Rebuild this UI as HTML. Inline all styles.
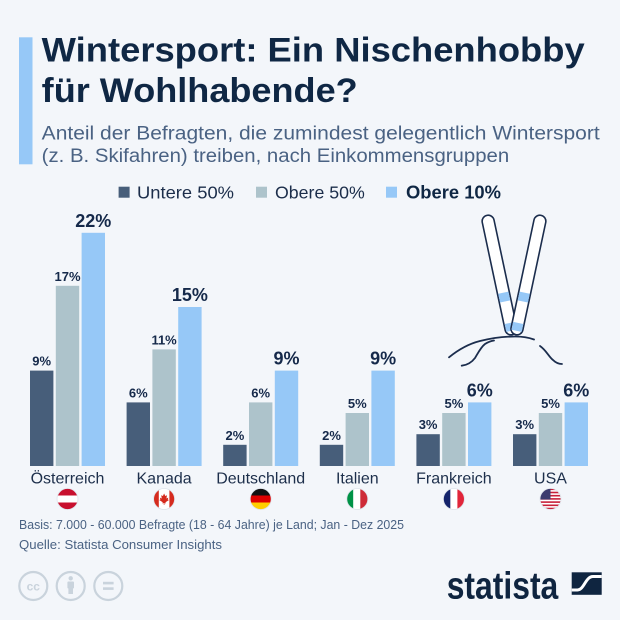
<!DOCTYPE html>
<html><head><meta charset="utf-8"><style>
html,body{margin:0;padding:0;background:#f3f6fa;}
svg{display:block;}
</style></head><body>
<svg width="620" height="620" viewBox="0 0 620 620" xmlns="http://www.w3.org/2000/svg" font-family="'Liberation Sans', sans-serif">
<defs>
<clipPath id="cAT"><circle cx="67.5" cy="499" r="10.5"/></clipPath>
<clipPath id="cCA"><circle cx="164.1" cy="499" r="10.5"/></clipPath>
<clipPath id="cDE"><circle cx="260.7" cy="499" r="10.5"/></clipPath>
<clipPath id="cIT"><circle cx="357.3" cy="499" r="10.5"/></clipPath>
<clipPath id="cFR"><circle cx="453.9" cy="499" r="10.5"/></clipPath>
<clipPath id="cUS"><circle cx="550.5" cy="499" r="10.5"/></clipPath>
</defs>
<rect width="620" height="620" fill="#f3f6fa"/>
<rect x="19" y="37.3" width="13.5" height="127" fill="#96c8f7"/>

<text x="41.7" y="61.5" font-size="34" font-weight="bold" fill="#0f2744" textLength="543" lengthAdjust="spacingAndGlyphs">Wintersport: Ein Nischenhobby</text>
<text x="41.7" y="102" font-size="34" font-weight="bold" fill="#0f2744" textLength="316" lengthAdjust="spacingAndGlyphs">für Wohlhabende?</text>

<text x="41.7" y="139.3" font-size="19" fill="#4a6283" textLength="558" lengthAdjust="spacingAndGlyphs">Anteil der Befragten, die zumindest gelegentlich Wintersport</text>
<text x="41.7" y="161.8" font-size="19" fill="#4a6283" textLength="467.5" lengthAdjust="spacingAndGlyphs">(z. B. Skifahren) treiben, nach Einkommensgruppen</text>

<!-- legend -->
<rect x="118.6" y="186.7" width="11" height="11" fill="#475e7a"/>
<text x="137" y="198.5" font-size="17.5" fill="#1b2d4a" textLength="97" lengthAdjust="spacingAndGlyphs">Untere 50%</text>
<rect x="256" y="186.7" width="11" height="11" fill="#adc3cb"/>
<text x="275" y="198.5" font-size="17.5" fill="#1b2d4a" textLength="89.8" lengthAdjust="spacingAndGlyphs">Obere 50%</text>
<rect x="386" y="186.7" width="11" height="11" fill="#96c8f7"/>
<text x="406" y="198.5" font-size="18" font-weight="bold" fill="#0f2744" textLength="95" lengthAdjust="spacingAndGlyphs">Obere 10%</text>

<!-- skis -->
<g stroke="#1b2d4d" stroke-width="1.6" fill="#ffffff">
  <g transform="translate(500,277) rotate(-12)">
    <rect x="-6" y="-63" width="12" height="122" rx="6"/>
    <rect x="-5.2" y="16" width="10.4" height="9" fill="#96c8f7" stroke="none"/>
    <rect x="-5.2" y="47" width="10.4" height="8" fill="#96c8f7" stroke="none"/>
  </g>
  <g transform="translate(528,277) rotate(12)">
    <rect x="-6" y="-63" width="12" height="122" rx="6"/>
    <rect x="-5.2" y="16" width="10.4" height="9" fill="#96c8f7" stroke="none"/>
    <rect x="-5.2" y="47" width="10.4" height="8" fill="#96c8f7" stroke="none"/>
  </g>
</g>
<rect x="496" y="337.5" width="40" height="8" fill="#f3f6fa"/>
<g stroke="#1b2d4d" stroke-width="1.8" fill="none" stroke-linecap="round">
  <path d="M449,357.3 C458,350 468,344 480,341 C492,338 505,336.5 515,336.5 C523,336.5 530,338 534,339.5"/>
  <path d="M540,346 C546,350 549,357 553,360 C556,363 559,364 562,364"/>
  <path d="M461.7,365.7 C468,365 472,362 475,358 C478,353 481,347 485,344 C488,342 491,341 494,340.5"/>
</g>

<!-- bars -->
<g>
<rect x="30" y="370.6" width="23.4" height="95.4" fill="#475e7a"/>
<rect x="55.8" y="285.8" width="23.4" height="180.2" fill="#adc3cb"/>
<rect x="81.6" y="232.8" width="23.4" height="233.2" fill="#96c8f7"/>

<rect x="126.6" y="402.4" width="23.4" height="63.6" fill="#475e7a"/>
<rect x="152.4" y="349.4" width="23.4" height="116.6" fill="#adc3cb"/>
<rect x="178.2" y="307" width="23.4" height="159" fill="#96c8f7"/>

<rect x="223.2" y="444.8" width="23.4" height="21.2" fill="#475e7a"/>
<rect x="249" y="402.4" width="23.4" height="63.6" fill="#adc3cb"/>
<rect x="274.8" y="370.6" width="23.4" height="95.4" fill="#96c8f7"/>

<rect x="319.8" y="444.8" width="23.4" height="21.2" fill="#475e7a"/>
<rect x="345.6" y="413" width="23.4" height="53" fill="#adc3cb"/>
<rect x="371.4" y="370.6" width="23.4" height="95.4" fill="#96c8f7"/>

<rect x="416.4" y="434.2" width="23.4" height="31.8" fill="#475e7a"/>
<rect x="442.2" y="413" width="23.4" height="53" fill="#adc3cb"/>
<rect x="468" y="402.4" width="23.4" height="63.6" fill="#96c8f7"/>

<rect x="513" y="434.2" width="23.4" height="31.8" fill="#475e7a"/>
<rect x="538.8" y="413" width="23.4" height="53" fill="#adc3cb"/>
<rect x="564.6" y="402.4" width="23.4" height="63.6" fill="#96c8f7"/>
</g>

<!-- value labels -->
<g font-weight="bold" fill="#15294a" text-anchor="middle">
<text x="41.7" y="365.6" font-size="13">9%</text>
<text x="67.5" y="280.8" font-size="13">17%</text>
<text x="93.3" y="226.8" font-size="18">22%</text>

<text x="138.3" y="397.4" font-size="13">6%</text>
<text x="164.1" y="344.4" font-size="13">11%</text>
<text x="189.9" y="301" font-size="18">15%</text>

<text x="234.9" y="439.8" font-size="13">2%</text>
<text x="260.7" y="397.4" font-size="13">6%</text>
<text x="286.5" y="364.6" font-size="18">9%</text>

<text x="331.5" y="439.8" font-size="13">2%</text>
<text x="357.3" y="408" font-size="13">5%</text>
<text x="383.1" y="364.6" font-size="18">9%</text>

<text x="428.1" y="429.2" font-size="13">3%</text>
<text x="453.9" y="408" font-size="13">5%</text>
<text x="479.7" y="396.4" font-size="18">6%</text>

<text x="524.7" y="429.2" font-size="13">3%</text>
<text x="550.5" y="408" font-size="13">5%</text>
<text x="576.3" y="396.4" font-size="18">6%</text>
</g>

<!-- country labels -->
<g font-size="16" fill="#1d2f4b" text-anchor="middle">
<text x="67.5" y="483.3">Österreich</text>
<text x="164.1" y="483.3">Kanada</text>
<text x="260.7" y="483.3">Deutschland</text>
<text x="357.3" y="483.3">Italien</text>
<text x="453.9" y="483.3">Frankreich</text>
<text x="550.5" y="483.3">USA</text>
</g>

<!-- flags -->
<g clip-path="url(#cAT)">
  <rect x="56" y="488" width="23" height="23" fill="#c8102e"/>
  <rect x="56" y="495.5" width="23" height="7" fill="#ffffff"/>
</g>
<g clip-path="url(#cCA)">
  <rect x="153" y="488" width="23" height="23" fill="#ffffff"/>
  <rect x="153" y="488" width="5.8" height="23" fill="#d52b1e"/>
  <rect x="169.4" y="488" width="6" height="23" fill="#d52b1e"/>
  <path d="M164.1,493.5 L165.3,496 L167,495.3 L166.4,498.5 L168.3,497.6 L167.8,499.6 L169,500 L165.5,502.3 L165.8,503.5 L164.4,503 L164.4,505 L163.8,505 L163.8,503 L162.4,503.5 L162.7,502.3 L159.2,500 L160.4,499.6 L159.9,497.6 L161.8,498.5 L161.2,495.3 L162.9,496 Z" fill="#d52b1e"/>
</g>
<g clip-path="url(#cDE)">
  <rect x="249" y="488" width="23" height="7.5" fill="#111111"/>
  <rect x="249" y="495.5" width="23" height="7" fill="#dd0000"/>
  <rect x="249" y="502.5" width="23" height="8" fill="#ffce00"/>
</g>
<g clip-path="url(#cIT)">
  <rect x="346" y="488" width="7.3" height="23" fill="#009246"/>
  <rect x="353.3" y="488" width="7" height="23" fill="#ffffff"/>
  <rect x="360.3" y="488" width="8" height="23" fill="#ce2b37"/>
</g>
<g clip-path="url(#cFR)">
  <rect x="443" y="488" width="7.4" height="23" fill="#14246b"/>
  <rect x="450.4" y="488" width="7" height="23" fill="#ffffff"/>
  <rect x="457.4" y="488" width="8" height="23" fill="#e1253a"/>
</g>
<g clip-path="url(#cUS)">
  <rect x="539" y="488" width="23" height="23" fill="#ffffff"/>
  <g fill="#c8203a">
    <rect x="539" y="488.5" width="23" height="1.6"/>
    <rect x="539" y="491.7" width="23" height="1.6"/>
    <rect x="539" y="494.9" width="23" height="1.6"/>
    <rect x="539" y="498.1" width="23" height="1.6"/>
    <rect x="539" y="501.3" width="23" height="1.6"/>
    <rect x="539" y="504.5" width="23" height="1.6"/>
    <rect x="539" y="507.7" width="23" height="1.6"/>
  </g>
  <rect x="539" y="488" width="11.5" height="11.5" fill="#3c3b6e"/>
</g>
<g fill="none" stroke="#dde3ea" stroke-width="0.8">
  <circle cx="67.5" cy="499" r="10.5"/><circle cx="164.1" cy="499" r="10.5"/>
  <circle cx="260.7" cy="499" r="10.5"/><circle cx="357.3" cy="499" r="10.5"/>
  <circle cx="453.9" cy="499" r="10.5"/><circle cx="550.5" cy="499" r="10.5"/>
</g>

<!-- footer -->
<text x="19" y="529" font-size="13" fill="#4a6283" textLength="385" lengthAdjust="spacingAndGlyphs">Basis: 7.000 - 60.000 Befragte (18 - 64 Jahre) je Land; Jan - Dez 2025</text>
<text x="19" y="549" font-size="13" fill="#4a6283" textLength="203" lengthAdjust="spacingAndGlyphs">Quelle: Statista Consumer Insights</text>

<g fill="none" stroke="#c9d3dc" stroke-width="2.2">
  <circle cx="33.3" cy="586" r="14"/>
  <circle cx="70.7" cy="586" r="14"/>
  <circle cx="108.3" cy="586" r="14"/>
</g>
<text x="33.3" y="590.5" font-size="12" font-weight="bold" fill="#c9d3dc" text-anchor="middle">cc</text>
<g fill="#c9d3dc">
  <circle cx="70.7" cy="578.3" r="2.2"/>
  <rect x="67.4" y="581.5" width="6.6" height="7" rx="1"/>
  <rect x="68.4" y="587" width="4.6" height="7"/>
  <rect x="103" y="581.8" width="10.6" height="2.6"/>
  <rect x="103" y="587.3" width="10.6" height="2.6"/>
</g>

<text x="446.7" y="598.3" font-size="38" font-weight="bold" fill="#0f2540" textLength="111.6" lengthAdjust="spacingAndGlyphs">statista</text>
<rect x="571.7" y="572.3" width="30" height="22.5" fill="#0f2540"/>
<path d="M571.7,590 L577.5,590 C584,590 585.5,576.5 593,576.5 L601.7,576.5" fill="none" stroke="#ffffff" stroke-width="3"/>
</svg>
</body></html>
